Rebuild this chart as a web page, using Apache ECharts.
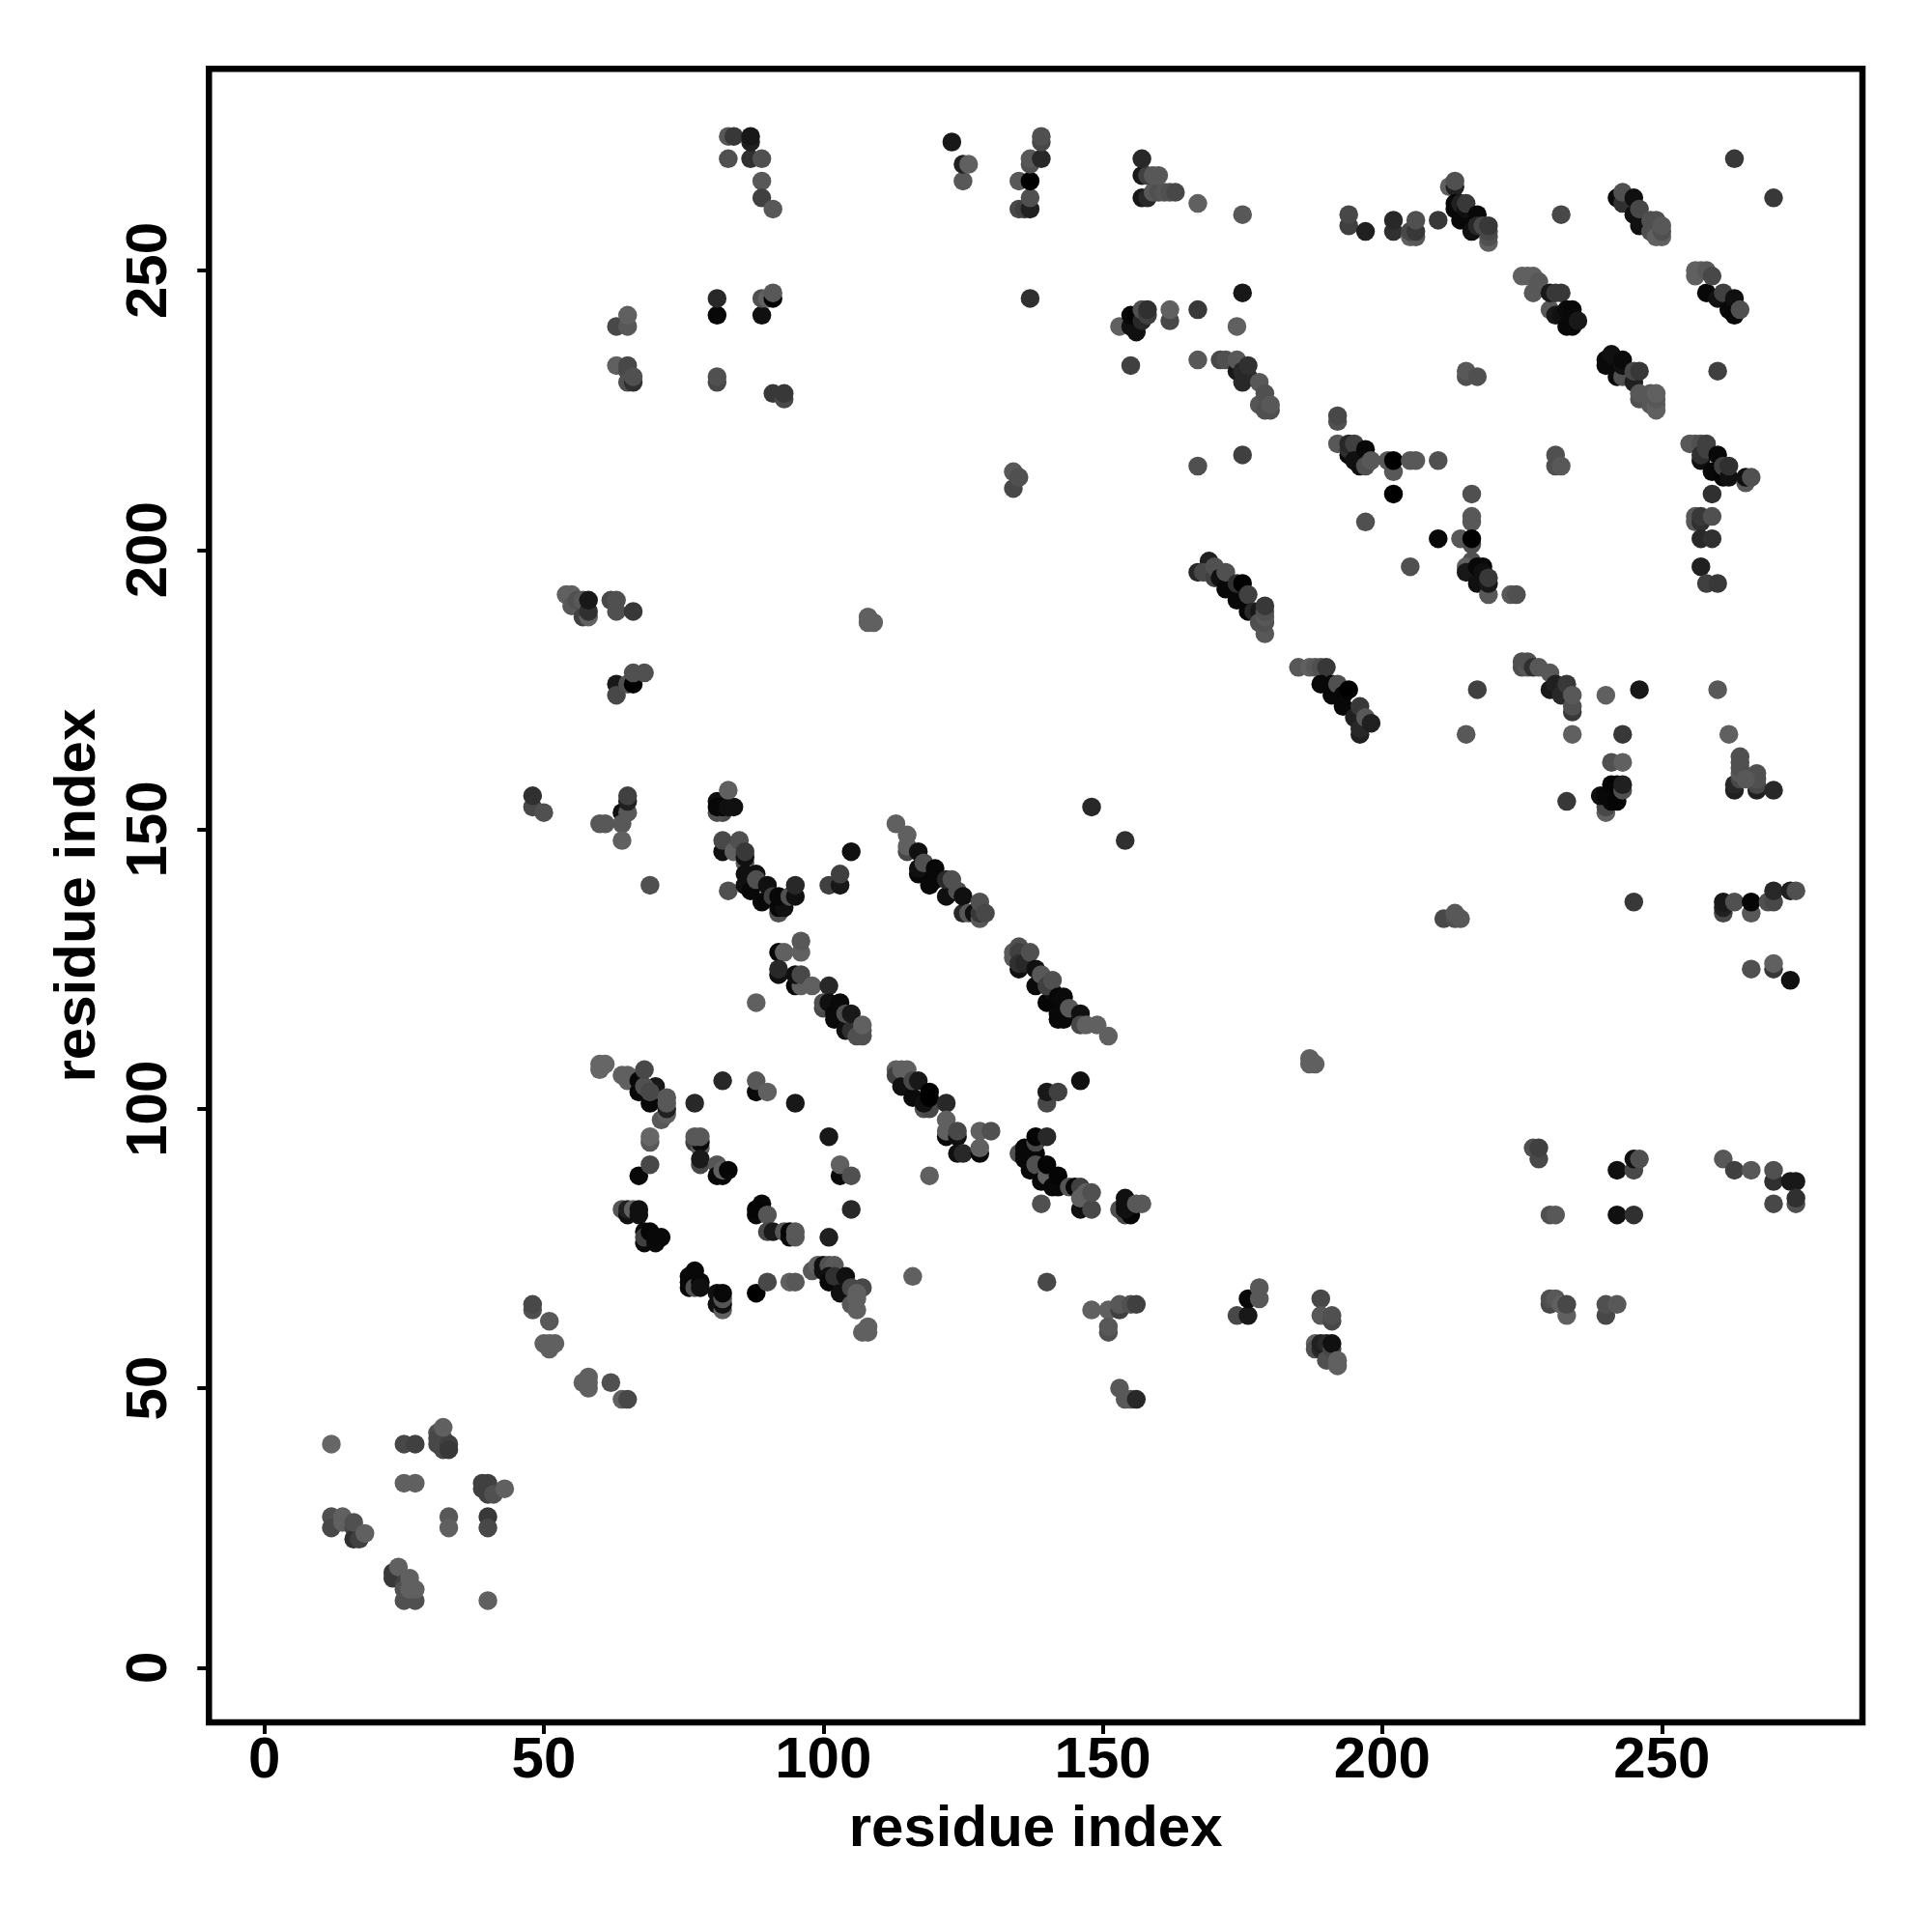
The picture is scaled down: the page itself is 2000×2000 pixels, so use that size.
<!DOCTYPE html>
<html><head><meta charset="utf-8"><style>html,body{margin:0;background:#fff}#c{width:2000px;height:2000px}</style>
<script src="https://cdn.jsdelivr.net/npm/echarts@6/dist/echarts.min.js"></script></head><body><div id="c"></div>
<script>
const tickValues = [0, 50, 100, 150, 200, 250];
const axisTitle = "residue index";
const residueI = [
12,12,12,14,14,16,16,17,16,18,
23,23,24,24,25,25,27,25,26,26,27,
25,27,25,27,31,31,31,32,32,33,33,32,33,33,40,40,40,
39,40,39,40,41,43,48,48,51,50,51,51,52,57,58,58,58,62,64,65,
60,60,61,64,65,65,67,67,69,70,68,69,68,71,72,72,72,72,
69,69,67,69,77,82,88,88,90,95,
77,78,78,77,78,78,78,81,81,82,82,83,
64,65,65,66,67,67,68,68,68,69,70,70,71,
89,88,88,90,90,91,93,94,94,95,95,101,103,103,105,105,101,
77,76,76,76,77,78,78,81,81,82,82,82,82,88,90,94,95,
98,99,100,100,101,102,101,101,102,104,103,105,107,105,106,106,106,107,108,108,
116,140,139,119,
113,113,114,114,115,116,116,117,118,119,118,119,119,122,
122,122,122,124,124,124,125,128,130,128,128,140,140,142,
135,136,136,136,137,138,138,138,138,140,139,140,140,141,142,142,144,145,146,146,146,147,148,148,146,
153,154,155,154,154,154,156,157,
148,151,151,151,153,153,155,156,153,154,155,156,
174,176,176,178,178,189,189,191,191,188,188,189,189,190,190,191,191,192,192,
187,187,188,227,228,228,230,231,230,230,231,232,233,233,240,240,242,242,245,242,245,245,246,
261,263,266,270,270,273,274,270,274,274,
266,270,270,273,
82,81,81,82,81,82,83,84,83,
82,82,84,85,86,86,86,83,
86,86,87,88,88,89,90,91,92,92,93,92,94,95,95,
105,101,103,103,69,
92,93,96,96,92,92,95,96,95,96,98,101,88,
100,100,101,102,102,103,104,104,105,105,106,107,107,107,
113,115,115,115,117,117,117,118,119,120,120,120,122,122,123,124,125,125,126,127,128,128,128,129,
134,134,135,135,135,135,136,137,138,138,139,140,141,140,141,142,143,142,142,143,144,146,146,147,149,151,148,154,
83,83,84,87,87,87,89,89,89,91,123,125,125,126,
81,81,89,89,90,91,91,63,65,65,63,65,65,65,66,66,81,81,91,93,93,
54,55,55,56,57,58,57,58,58,62,63,63,66,108,108,109,
63,63,65,66,66,68,48,48,50,64,65,65,65,60,61,64,64,
135,136,137,137,135,137,137,137,139,139,139,137,134,134,135,
157,158,159,160,161,162,163,157,158,159,160,157,167,175,
194,194,197,202,202,205,206,205,206,206,210,
212,213,213,213,213,214,214,215,215,216,217,219,219,219,217,218,219,
175,167,162,162,174,153,156,155,155,156,157,157,158,158,155,
167,171,172,174,174,175,175,176,176,178,178,179,179,180,180,167,175,
192,192,192,194,194,194,195,195,196,197,197,197,198,201,202,202,202,205,206,210,197,
216,216,216,215,215,217,
210,214,216,216,205,216,215,215,217,217,218,218,219,219,219,223,224,
167,169,168,170,170,171,172,172,174,174,175,176,176,177,178,178,179,179,179,179,179,
185,187,188,189,190,189,191,191,192,193,193,194,195,196,196,196,197,198,217,215,
231,231,232,
255,256,257,257,257,258,258,259,260,261,261,262,262,265,265,266,259,
256,256,257,257,259,257,259,257,258,260,
225,225,226,226,227,228,230,230,231,232,233,234,234,234,
240,246,260,234,243,262,241,243,
233,240,240,239,240,241,242,241,242,243,243,
263,263,264,264,264,264,264,267,267,267,267,265,270,
263,270,232,
242,243,243,245,245,246,246,248,248,249,250,249,250,250,
225,226,227,227,228,230,230,231,231,232,232,233,233,234,234,235,
256,256,257,258,258,259,260,261,262,263,263,264,260,
240,240,241,242,243,243,243,245,245,246,246,246,248,248,249,249,249,249,
245,261,261,261,263,266,266,269,270,270,273,274,211,213,213,214
];
const residueJ = [
40,27,25,27,26,25,23,23,26,24,
17,16,16,18,15,12,12,14,16,14,14,
40,40,33,33,42,41,40,41,39,40,39,43,27,25,27,25,12,
33,33,32,31,31,32,64,65,62,58,57,58,58,51,50,51,52,51,48,48,
107,108,108,106,105,106,103,105,101,104,104,103,107,98,99,100,101,102,
94,95,88,90,101,105,103,105,103,101,
94,93,94,95,95,90,91,90,88,88,89,89,
82,81,82,82,81,82,78,76,77,78,76,77,77,
83,81,82,81,78,78,78,77,78,77,78,95,88,90,88,82,77,
71,70,69,68,68,69,68,67,65,64,65,66,67,67,69,69,69,
71,72,71,72,72,72,70,69,70,70,67,68,68,65,67,66,64,60,60,61,
70,69,83,88,
107,106,107,104,107,102,105,105,100,100,101,102,103,101,
98,95,96,95,96,92,92,96,96,92,93,101,103,103,
92,93,92,91,89,92,90,94,95,95,87,88,90,86,86,88,86,86,86,82,84,85,82,85,105,
82,81,81,82,83,84,83,83,
64,64,60,61,64,65,65,65,50,48,48,48,
63,63,66,66,68,66,63,62,63,58,57,57,58,58,55,57,58,55,54,
109,108,108,93,91,93,81,81,65,66,66,65,63,65,63,65,65,81,81,89,89,91,91,
91,89,89,87,89,87,87,83,83,84,
125,125,126,123,
153,153,155,155,154,154,154,154,157,
146,148,146,148,144,145,146,139,
142,140,139,142,141,137,140,138,135,136,136,138,138,138,140,
146,140,140,142,140,
128,128,128,130,124,125,122,122,124,124,122,122,119,
118,119,119,116,117,119,114,117,114,117,113,113,114,115,
151,146,147,149,142,143,146,144,140,141,142,143,138,141,141,139,135,138,135,135,134,135,137,135,
127,128,129,128,125,126,126,128,122,125,124,119,121,122,123,116,116,117,120,120,118,117,115,115,115,113,154,148,
270,274,274,270,273,274,270,266,263,261,273,266,269,269,
242,245,242,245,245,245,246,240,240,242,233,233,232,230,230,231,230,231,228,227,228,
192,192,190,191,188,188,191,189,191,191,189,191,189,187,188,187,
176,174,176,176,178,178,154,156,153,153,153,155,156,151,151,151,148,
261,261,261,263,266,266,269,270,270,273,274,245,211,214,213,
263,263,264,264,264,264,264,267,267,267,267,270,262,260,
258,260,257,257,259,256,256,257,257,259,259,
265,265,266,261,262,259,262,261,262,257,260,255,256,257,258,258,258,
246,243,241,243,240,240,239,240,242,242,241,243,242,243,233,
234,234,234,232,234,230,232,231,233,230,226,228,225,225,226,215,217,
223,224,219,217,218,219,219,216,215,217,218,215,216,216,214,216,210,216,216,216,205,
210,205,206,231,232,231,
202,202,201,202,197,198,197,196,194,197,197,196,192,194,195,192,192,
196,198,196,195,197,195,193,196,191,194,194,189,192,189,189,187,185,187,188,189,190,
179,179,179,179,179,176,174,176,176,172,174,175,170,167,168,172,170,169,175,167,
215,217,215,
219,219,219,216,217,218,219,214,217,213,215,213,215,212,213,213,210,
205,206,205,206,206,202,202,197,194,194,
179,180,179,180,179,179,178,175,176,174,176,171,172,174,
174,175,175,167,167,167,162,162,
155,153,154,156,156,155,155,158,158,157,158,
157,158,159,160,161,162,163,157,158,159,160,159,157,
270,263,260,
263,262,264,260,263,258,261,257,259,256,256,259,257,258,
249,249,246,249,248,243,246,246,242,242,246,240,243,240,243,241,
249,250,250,250,246,249,245,246,243,242,245,243,232,
233,234,235,231,231,233,234,230,232,232,227,228,226,228,225,226,227,228,
137,135,136,137,137,135,137,137,137,139,139,139,134,134,135,134
];
const grey = [
102,80,72,96,96,72,48,64,80,96,
56,56,56,96,64,80,80,80,96,96,96,
72,64,96,96,80,72,72,72,72,64,56,96,88,96,56,72,96,
64,64,64,64,80,96,80,72,88,96,96,96,96,96,96,96,96,80,96,72,
102,102,102,96,96,96,8,8,8,24,80,72,72,88,96,32,88,88,
88,102,8,72,40,40,10,88,96,24,
64,96,10,88,88,72,26,85,8,8,96,5,
85,16,32,96,16,16,10,10,64,5,10,8,8,
8,8,5,85,72,26,88,8,5,88,88,24,10,96,80,40,32,
8,8,8,8,80,8,16,16,16,96,16,85,8,0,72,96,88,
88,96,16,16,80,88,16,8,48,16,16,72,72,88,96,96,96,96,96,96,
96,72,80,96,
96,64,96,16,96,10,72,24,80,72,16,0,0,40,
96,8,96,16,72,16,40,96,80,8,96,72,24,64,
80,8,8,8,8,8,80,72,5,40,8,96,5,8,8,5,85,8,64,16,96,96,72,80,16,
80,72,5,16,16,16,88,88,
96,96,80,88,64,88,80,64,88,88,88,40,
72,24,8,88,88,72,88,72,80,96,80,40,32,40,80,72,16,96,96,
96,96,96,80,72,64,80,88,72,80,88,96,96,72,72,80,88,16,48,16,72,16,80,
88,64,88,48,80,24,24,72,80,48,
80,56,96,16,
72,80,16,16,8,8,16,16,96,
16,72,96,80,88,16,56,80,
16,16,8,16,80,8,16,64,80,8,16,8,80,16,40,
16,64,24,64,80,
8,96,96,88,16,40,8,96,16,72,96,40,96,
72,80,16,10,10,10,16,80,48,24,80,80,80,96,
96,72,96,96,8,16,16,80,8,8,8,8,16,40,80,80,40,16,88,16,88,56,80,72,
88,88,80,64,16,48,40,80,10,16,88,5,16,64,80,8,8,8,8,10,88,16,72,96,96,96,40,48,
80,88,56,48,32,24,80,88,64,88,24,88,32,96,
8,40,16,80,96,0,88,72,88,96,96,72,72,80,48,80,72,80,56,72,56,
96,96,88,80,64,96,88,48,24,72,80,80,56,96,96,96,
24,72,80,0,80,80,72,48,80,16,88,32,64,88,88,88,96,
72,64,32,80,88,0,80,88,40,72,80,48,72,88,80,
24,40,88,80,85,80,72,24,64,88,88,40,96,88,
64,72,32,48,40,96,88,72,56,80,56,
96,32,80,8,8,8,32,16,56,16,8,96,80,72,40,72,56,
24,56,72,96,96,96,16,16,8,5,40,80,64,48,64,
88,72,80,24,88,40,40,40,48,88,85,80,80,80,88,80,64,
80,72,88,8,48,40,64,16,16,16,8,80,88,88,88,0,0,88,88,80,80,
80,88,88,80,88,80,
8,88,80,0,80,80,96,24,16,8,8,16,88,24,56,88,80,
40,32,72,64,80,16,8,80,8,48,0,8,64,40,24,80,88,80,88,80,56,
88,96,88,80,56,8,8,8,80,8,8,0,32,32,40,56,88,32,64,88,
80,80,88,
88,88,80,16,48,64,64,8,8,5,64,16,48,88,16,80,48,
88,88,48,56,80,40,48,32,64,56,
80,80,88,80,48,88,88,24,32,40,56,56,80,88,
96,24,88,96,56,96,80,96,
56,96,72,16,8,8,5,5,5,80,32,
32,40,72,88,80,80,80,32,72,80,80,88,40,
56,56,72,
10,48,80,16,16,16,72,80,80,96,96,80,80,88,
96,96,88,96,88,88,24,56,24,16,56,8,10,8,8,24,
96,96,96,88,8,72,16,64,10,8,16,80,64,
10,10,16,10,80,16,10,32,72,56,80,88,88,88,96,96,88,96,
56,72,32,24,80,88,5,80,72,40,32,80,72,80,88,88
];

const marks = residueI.map((x, i) => ({
  value: [x, residueJ[i]],
  itemStyle: { color: `rgb(${grey[i]},${grey[i]},${grey[i]})`, opacity: 1 }
}));
const font = "'Liberation Sans', Arial, Helvetica, sans-serif";
const makeAxis = (min, max, rotate, nameGap, margin) => ({
  type: 'value', min, max, name: axisTitle, nameLocation: 'middle', nameGap,
  nameTextStyle: { fontFamily: font, fontWeight: 'bold', fontSize: 60, color: '#000' },
  splitLine: { show: false }, axisLine: { show: false, onZero: false },
  axisTick: { show: true, length: 12, inside: false, lineStyle: { color: '#000', width: 4 }, customValues: tickValues },
  axisLabel: { show: true, rotate, margin, fontFamily: font, fontWeight: 'bold', fontSize: 60, color: '#000', customValues: tickValues }
});
const chart = echarts.init(document.getElementById('c'), null, { renderer: 'canvas' });
chart.setOption({
  animation: false, backgroundColor: '#fff',
  grid: { show: true, left: 216.3, top: 71.2, width: 1711.7, height: 1711.8, borderColor: '#000', borderWidth: 6.5, backgroundColor: 'transparent' },
  xAxis: makeAxis(-9.9, 285.9, 0, 81, 10),
  yAxis: makeAxis(-9.8, 286.1, 90, 105, 31),
  series: [{ type: 'scatter', symbol: 'circle', symbolSize: 19.5, data: marks, silent: true, clip: false, z: 5 }]
});
</script></body></html>
